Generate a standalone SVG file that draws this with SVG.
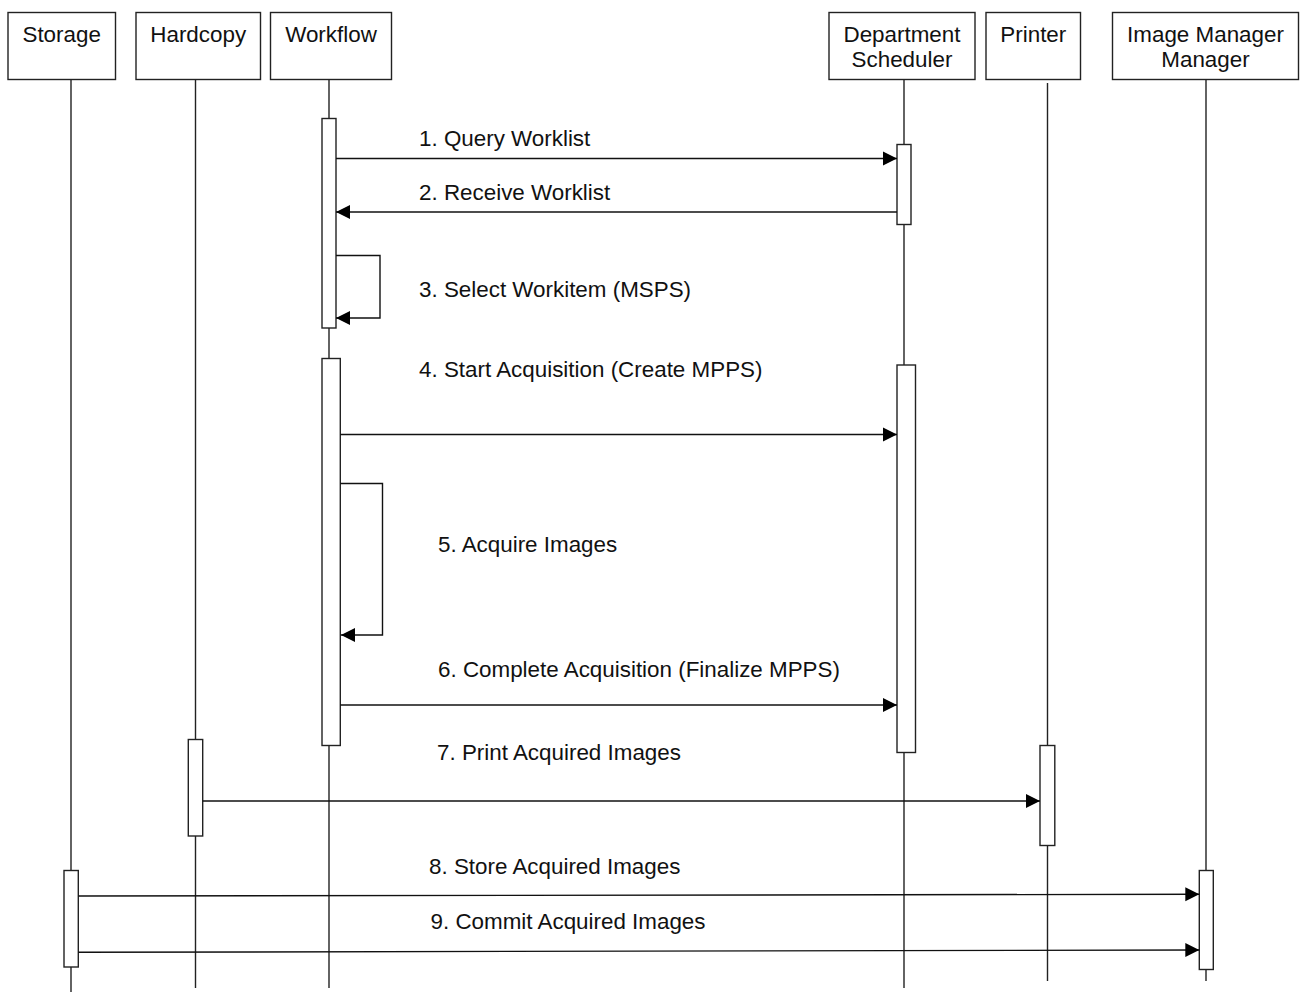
<svg xmlns="http://www.w3.org/2000/svg" width="1301" height="992" viewBox="0 0 1301 992">
<style>
  .box { fill: #fff; stroke: #222; stroke-width: 1.4; }
  .life { stroke: #222; stroke-width: 1.4; fill: none; }
  .act { fill: #fff; stroke: #222; stroke-width: 1.4; }
  .msg { stroke: #111; stroke-width: 1.4; fill: none; }
  .t { font-family: "Liberation Sans", Arial, sans-serif; font-size: 22.4px; fill: #111; }
  .c { text-anchor: middle; }
</style>
<defs>
  <marker id="ah" markerUnits="userSpaceOnUse" markerWidth="16" markerHeight="16" viewBox="0 0 16 16" refX="14" refY="8" orient="auto">
    <path d="M0,1 L14,8 L0,15 Z" fill="#000"/>
  </marker>
</defs>
<rect width="1301" height="992" fill="#fff"/>

<g id="lifelines">
  <line class="life" x1="71" y1="80" x2="71" y2="992"/>
  <line class="life" x1="195.5" y1="80" x2="195.5" y2="988"/>
  <line class="life" x1="329" y1="80" x2="329" y2="988"/>
  <line class="life" x1="904" y1="80" x2="904" y2="988"/>
  <line class="life" x1="1047.5" y1="83" x2="1047.5" y2="981"/>
  <line class="life" x1="1206" y1="80" x2="1206" y2="981"/>
</g>

<g id="node-storage">
  <rect class="box" x="8" y="12.5" width="107.5" height="67"/>
  <text class="t c" x="61.7" y="42">Storage</text>
  <rect class="act" x="64" y="870.5" width="14.3" height="96.5"/>
</g>
<g id="node-hardcopy">
  <rect class="box" x="136" y="12.5" width="124.5" height="67"/>
  <text class="t c" x="198.2" y="42">Hardcopy</text>
  <rect class="act" x="188.3" y="739.5" width="14.4" height="96.5"/>
</g>
<g id="node-workflow">
  <rect class="box" x="270.5" y="12.5" width="121" height="67"/>
  <text class="t c" x="331" y="42">Workflow</text>
  <rect class="act" x="322" y="118.5" width="14" height="209.5"/>
  <rect class="act" x="322" y="358.5" width="18.3" height="387"/>
</g>
<g id="node-department-scheduler">
  <rect class="box" x="829" y="12.5" width="146" height="67"/>
  <text class="t c" x="902" y="41.5">Department</text>
  <text class="t c" x="902" y="66.5">Scheduler</text>
  <rect class="act" x="897" y="144.5" width="14" height="80"/>
  <rect class="act" x="897" y="365" width="18.5" height="387.5"/>
</g>
<g id="node-printer">
  <rect class="box" x="986" y="12.5" width="94.5" height="67"/>
  <text class="t c" x="1033.3" y="42">Printer</text>
  <rect class="act" x="1040" y="745.5" width="14.8" height="100"/>
</g>
<g id="node-image-manager">
  <rect class="box" x="1112.5" y="12.5" width="186" height="67"/>
  <text class="t c" x="1205.5" y="41.5">Image Manager</text>
  <text class="t c" x="1205.5" y="66.5">Manager</text>
  <rect class="act" x="1199.3" y="870.5" width="14" height="99"/>
</g>

<g id="connectors">
  <line class="msg" x1="336" y1="158.5" x2="897" y2="158.5" marker-end="url(#ah)"/>
  <line class="msg" x1="897" y1="212" x2="336" y2="212" marker-end="url(#ah)"/>
  <polyline class="msg" points="336,255.5 380,255.5 380,318 336,318" marker-end="url(#ah)"/>
  <line class="msg" x1="340.3" y1="434.5" x2="897" y2="434.5" marker-end="url(#ah)"/>
  <polyline class="msg" points="340.3,483.5 382.5,483.5 382.5,635 341,635" marker-end="url(#ah)"/>
  <line class="msg" x1="340.3" y1="705" x2="897" y2="705" marker-end="url(#ah)"/>
  <line class="msg" x1="202.7" y1="801" x2="1040" y2="801" marker-end="url(#ah)"/>
  <line class="msg" x1="78.3" y1="896" x2="1199.3" y2="894.3" marker-end="url(#ah)"/>
  <line class="msg" x1="78.3" y1="952.3" x2="1199.3" y2="950" marker-end="url(#ah)"/>
</g>

<g id="labels">
  <text class="t" x="419" y="146">1. Query Worklist</text>
  <text class="t" x="419" y="200">2. Receive Worklist</text>
  <text class="t" x="419" y="297">3. Select Workitem (MSPS)</text>
  <text class="t" x="419" y="377">4. Start Acquisition (Create MPPS)</text>
  <text class="t" x="438" y="552">5. Acquire Images</text>
  <text class="t" x="438" y="677">6. Complete Acquisition (Finalize MPPS)</text>
  <text class="t" x="437" y="760">7. Print Acquired Images</text>
  <text class="t" x="429" y="874">8. Store Acquired Images</text>
  <text class="t" x="430.5" y="929">9. Commit Acquired Images</text>
</g>
</svg>
